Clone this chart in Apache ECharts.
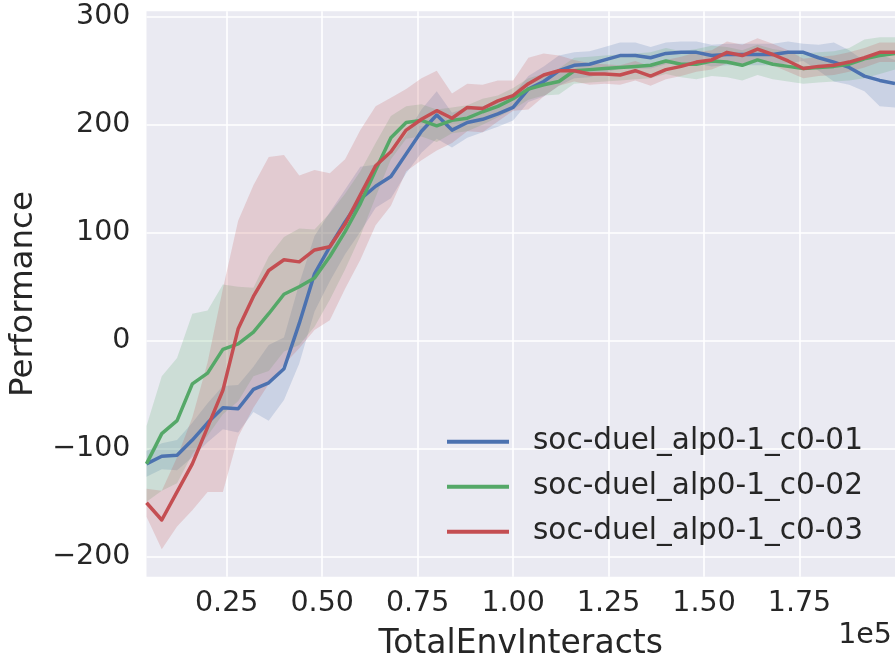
<!DOCTYPE html>
<html><head><meta charset="utf-8">
<script src="https://cdn.jsdelivr.net/npm/echarts@6/dist/echarts.min.js"></script>
<style>html,body{margin:0;padding:0;background:#fff}#c{width:895px;height:660px}</style>
</head><body><div id="c"></div>
<script>
const steps = [4000,8000,12000,16000,20000,24000,28000,32000,36000,40000,
  44000,48000,52000,56000,60000,64000,68000,72000,76000,80000,
  84000,88000,92000,96000,100000,104000,108000,112000,116000,120000,
  124000,128000,132000,136000,140000,144000,148000,152000,156000,160000,
  164000,168000,172000,176000,180000,184000,188000,192000,196000,200000];
const seriesNames = ['soc-duel_alp0-1_c0-01','soc-duel_alp0-1_c0-02','soc-duel_alp0-1_c0-03'];
const blueMean = [-114,-107,-106,-92,-76,-62,-63,-45,-39,-26,
  16,62,87,110,131,143,152,173,194,209,
  195,202,205,210,216,233,240,250,255,256,
  260,264,264,262,266,267,267,264,265,265,
  265,265,267,267,262,258,253,245,241,238];
const blueStd = [12,12,14,16,18,20,22,21,35,29,
  37,35,32,30,30,20,20,18,20,22,
  16,14,12,12,12,12,14,14,12,12,
  12,12,12,10,10,10,10,10,10,10,
  10,10,10,8,12,18,16,14,24,22];
const greenMean = [-114,-86,-74,-40,-30,-8,-3,8,25,43,
  50,58,78,101,127,158,188,202,204,199,
  204,206,212,217,224,233,237,240,250,251,
  252,253,254,255,259,256,256,259,258,255,
  260,256,254,252,253,254,256,261,264,266];
const greenStd = [35,53,58,65,58,60,53,41,53,53,
  54,45,40,35,30,25,20,15,15,15,
  12,12,12,10,10,10,10,12,12,12,
  12,12,12,12,12,12,14,14,14,14,
  14,14,14,14,14,14,15,18,17,15];
const redMean = [-150,-166,-140,-114,-80,-46,11,41,65,75,
  73,84,87,108,135,162,175,195,205,213,
  206,216,215,222,227,238,246,250,250,247,
  247,246,250,245,251,254,258,260,267,264,
  270,265,259,252,254,255,258,262,267,267];
const redStd = [13,27,32,43,60,94,100,103,105,97,
  80,74,68,60,60,55,50,38,38,37,
  23,22,22,19,14,24,20,14,10,10,
  9,9,9,9,9,9,9,9,10,10,
  10,10,10,9,9,9,9,9,9,9];
const xTicks = [25000,50000,75000,100000,125000,150000,175000];
const yTicks = [-200,-100,0,100,200,300];

const colors = ['#4C72B0','#55A868','#C44E52'];
const bandColors = ['rgba(76,114,176,0.2)','rgba(85,168,104,0.2)','rgba(196,78,82,0.2)'];
const TXT = '#262626';
const FONT = 'DejaVu Sans';

function bandSeries(name, mean, std, fill) {
  const data = steps.map((s, i) => [s, mean[i] - std[i], mean[i] + std[i]]);
  return {
    type: 'custom', name: name + ' band', silent: true, clip: true,
    data: data, encode: {x: 0, y: [1, 2]},
    renderItem: function (params, api) {
      if (params.dataIndex !== 0) return null;
      const pts = [];
      for (let i = 0; i < data.length; i++) pts.push(api.coord([data[i][0], data[i][2]]));
      for (let i = data.length - 1; i >= 0; i--) pts.push(api.coord([data[i][0], data[i][1]]));
      return {type: 'polygon', shape: {points: pts}, style: {fill: fill, stroke: null}};
    }
  };
}
function lineSeries(name, mean, color) {
  return {
    type: 'line', name: name, data: steps.map((s, i) => [s, mean[i]]),
    showSymbol: false, symbol: 'none', animation: false,
    lineStyle: {color: color, width: 3.5, join: 'round'}, itemStyle: {color: color}
  };
}
const means = [blueMean, greenMean, redMean];
const stds = [blueStd, greenStd, redStd];
const series = [];
for (let k = 0; k < 3; k++) {
  series.push(bandSeries(seriesNames[k], means[k], stds[k], bandColors[k]));
  series.push(lineSeries(seriesNames[k], means[k], colors[k]));
}

const chart = echarts.init(document.getElementById('c'));
chart.setOption({
  animation: false,
  textStyle: {fontFamily: FONT},
  grid: {left: 146.5, right: 0, top: 11.3, bottom: 83.3, show: true, backgroundColor: '#EAEAF2', borderWidth: 0, containLabel: false, outerBoundsMode: 'none'},
  xAxis: {
    type: 'value', min: 4000, max: 200000,
    axisLine: {show: false}, axisTick: {show: false, customValues: xTicks},
    axisLabel: {customValues: xTicks, formatter: v => (v / 1e5).toFixed(2), fontSize: 28.5, color: TXT, margin: 12, fontFamily: FONT},
    splitLine: {show: true, lineStyle: {color: '#ffffff', width: 1.6}},
    name: 'TotalEnvInteracts', nameLocation: 'middle', nameGap: 51,
    nameTextStyle: {fontSize: 33, color: TXT, fontFamily: FONT}
  },
  yAxis: {
    type: 'value', min: -218.5, max: 305,
    axisLine: {show: false}, axisTick: {show: false, customValues: yTicks},
    axisLabel: {customValues: yTicks, formatter: v => v < 0 ? '\u2212' + Math.abs(v) : String(v), fontSize: 28.5, color: TXT, margin: 16, fontFamily: FONT},
    splitLine: {show: true, lineStyle: {color: '#ffffff', width: 1.6}},
    name: 'Performance', nameLocation: 'middle', nameRotate: 90, nameGap: 106,
    nameTextStyle: {fontSize: 32.5, color: TXT, fontFamily: FONT}
  },
  legend: {
    data: seriesNames, orient: 'vertical', left: 442, top: 421.7,
    icon: 'rect', itemWidth: 62, itemHeight: 4, itemGap: 15,
    textStyle: {fontSize: 29.5, color: TXT, fontFamily: FONT, lineHeight: 30, padding: [0, 0, 0, 19]}
  },
  graphic: [{type: 'text', right: 3, top: 621, style: {text: '1e5', fontSize: 28.5, fill: TXT, fontFamily: FONT}}],
  series: series
});
</script></body></html>
